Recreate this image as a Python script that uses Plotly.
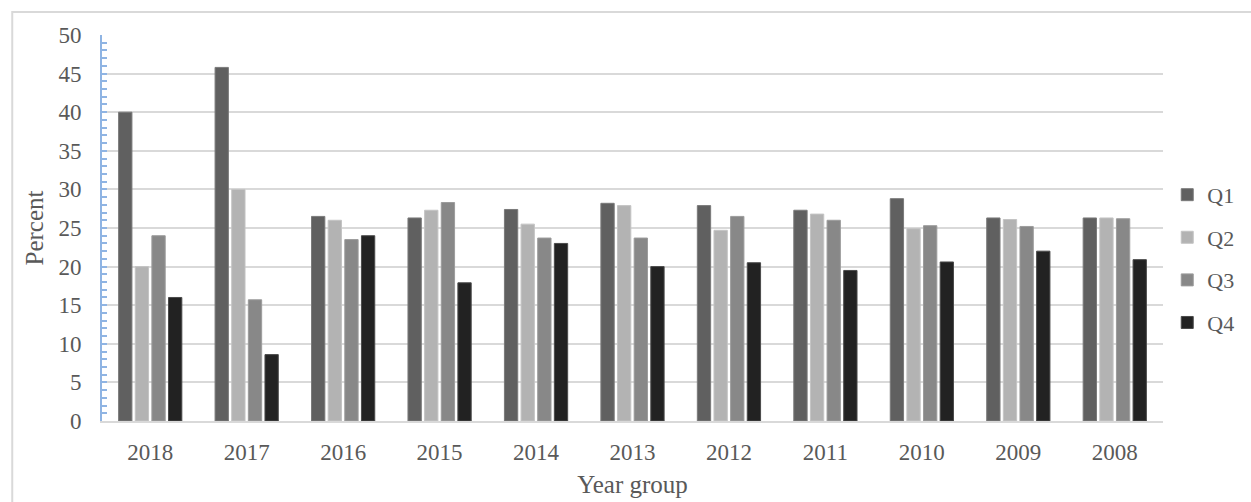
import plotly.graph_objects as go

# Year groups shown left to right
years = ["2018", "2017", "2016", "2015", "2014", "2013", "2012", "2011", "2010", "2009", "2008"]

# Percent per quartile for each year group
q1 = [40.0, 45.8, 26.5, 26.3, 27.4, 28.2, 27.9, 27.3, 28.8, 26.3, 26.3]
q2 = [20.0, 30.0, 26.0, 27.3, 25.5, 27.9, 24.7, 26.8, 24.9, 26.1, 26.3]
q3 = [24.0, 15.7, 23.5, 28.3, 23.7, 23.7, 26.5, 26.0, 25.3, 25.2, 26.2]
q4 = [16.0, 8.6, 24.0, 17.9, 23.0, 20.0, 20.5, 19.5, 20.6, 22.0, 20.9]

series = [
    ("Q1", q1, "#606060", "#7a7a7a"),
    ("Q2", q2, "#b3b3b3", "#c4c4c4"),
    ("Q3", q3, "#888888", "#9c9c9c"),
    ("Q4", q4, "#222222", "#4a4a4a"),
]

FONT = "Liberation Serif, Times New Roman, serif"
TEXT = "#595959"
GRID = "#d9d9d9"
AXIS_BLUE = "#8fb4e3"

fig = go.Figure()
for name, vals, fill, edge in series:
    fig.add_trace(go.Bar(
        x=years, y=vals, name=name, legendgroup=name,
        marker=dict(color=fill, line=dict(color=edge, width=1)),
    ))

fig.update_layout(
    width=1251, height=502,
    margin=dict(l=102, r=73, t=35, b=81),
    paper_bgcolor="white", plot_bgcolor="white",
    barmode="group", bargap=0.31, bargroupgap=0.2,
    font=dict(family=FONT, color=TEXT, size=23),
    legend=dict(
        x=1.004, xanchor="left", y=0.42, yanchor="middle",
        font=dict(size=22, color=TEXT), tracegroupgap=11,
        bgcolor="rgba(0,0,0,0)",
    ),
    xaxis=dict(
        type="category", showgrid=False, automargin=False,
        showline=True, linecolor=GRID, linewidth=2,
        ticks="", ticklabelstandoff=9,
        tickfont=dict(size=23, color=TEXT),
        title=dict(text="Year group", font=dict(size=25, color=TEXT), standoff=12),
    ),
    yaxis=dict(
        range=[0, 50], dtick=5, tick0=0, automargin=False,
        showgrid=True, gridcolor=GRID, gridwidth=2,
        zeroline=False,
        showline=True, linecolor=AXIS_BLUE, linewidth=2,
        ticks="inside", ticklen=5, tickcolor=AXIS_BLUE, tickwidth=2,
        minor=dict(dtick=1, ticks="inside", ticklen=5, tickcolor=AXIS_BLUE,
                   tickwidth=2, showgrid=False),
        ticklabelstandoff=14,
        tickfont=dict(size=23, color=TEXT),
        title=dict(text="Percent", font=dict(size=25, color=TEXT), standoff=8),
    ),
    shapes=[dict(
        type="rect", xref="paper", yref="paper",
        x0=-0.0846, x1=1.2, y0=-0.4, y1=1.0596,
        line=dict(color=GRID, width=2), fillcolor="rgba(0,0,0,0)", layer="below",
    )],
)

fig.write_html("out.html")
